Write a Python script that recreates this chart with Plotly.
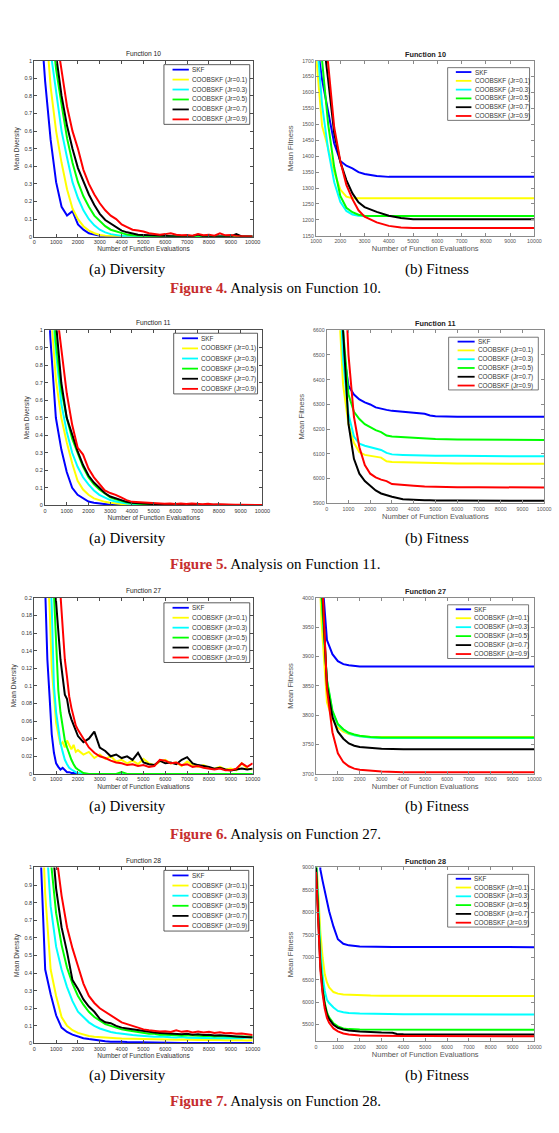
import plotly.graph_objects as go

W, H = 559, 1133

# ---------------- data ----------------
series_names = ["SKF", "COOBSKF (Jr=0.1)", "COOBSKF (Jr=0.3)", "COOBSKF (Jr=0.5)",
                "COOBSKF (Jr=0.7)", "COOBSKF (Jr=0.9)"]

x_div = [0, 250, 500, 750, 1000, 1250, 1500, 1750, 2000, 2250,
         2500, 2750, 3000, 3250, 3500, 3750, 4000, 4250, 4500, 4750,
         5000, 5250, 5500, 5750, 6000, 6250, 6500, 6750, 7000, 7250,
         7500, 7750, 8000, 8250, 8500, 8750, 9000, 9250, 9500, 9750,
         10000]

x_div27 = [0, 100, 200, 300, 400, 500, 600, 700, 800, 900,
           1000, 1100, 1200, 1300, 1400, 1500, 1600, 1700, 1800, 1900, 2000,
           2250, 2500, 2750, 3000, 3250, 3500, 3750, 4000, 4250, 4500,
           4750, 5000, 5250, 5500, 5750, 6000, 6250, 6500, 6750, 7000,
           7250, 7500, 7750, 8000, 8250, 8500, 8750, 9000, 9250, 9500, 9750, 10000]

# Function 10 - diversity
div10_skf = [1.80, 1.30, 0.88, 0.55, 0.31, 0.17, 0.12, 0.145, 0.07, 0.04,
             0.02, 0.012, 0.006, 0.004, 0.002, 0.002, 0.001, 0.001, 0.001, 0.0,
             0.001, 0.0, 0.0, 0.001, 0.0, 0.0, 0.0, 0.0, 0.001, 0.0,
             0.0, 0.0, 0.0, 0.0, 0.0, 0.0, 0.0, 0.0, 0.0, 0.0,
             0.0]
div10_j1 = [2.50, 1.80, 1.25, 0.85, 0.60, 0.42, 0.27, 0.16, 0.10, 0.06,
            0.035, 0.02, 0.01, 0.006, 0.004, 0.002, 0.001, 0.001, 0.0, 0.0,
            0.0, 0.0, 0.0, 0.0, 0.0, 0.0, 0.0, 0.0, 0.0, 0.0,
            0.0, 0.0, 0.0, 0.0, 0.0, 0.0, 0.0, 0.0, 0.0, 0.0,
            0.0]
div10_j3 = [3.0, 2.2, 1.5, 1.05, 0.82, 0.60, 0.45, 0.31, 0.22, 0.15,
            0.10, 0.065, 0.04, 0.025, 0.015, 0.008, 0.005, 0.003, 0.002, 0.001,
            0.001, 0.0, 0.001, 0.0, 0.0, 0.0, 0.0, 0.0, 0.0, 0.0,
            0.0, 0.0, 0.0, 0.0, 0.0, 0.0, 0.0, 0.0, 0.0, 0.0,
            0.0]
div10_j5 = [3.5, 2.6, 1.8, 1.25, 0.95, 0.75, 0.56, 0.42, 0.31, 0.23,
            0.17, 0.12, 0.09, 0.06, 0.04, 0.03, 0.02, 0.012, 0.008, 0.005,
            0.003, 0.002, 0.002, 0.001, 0.008, 0.002, 0.001, 0.0, 0.0, 0.0,
            0.0, 0.0, 0.0, 0.0, 0.0, 0.0, 0.0, 0.0, 0.0, 0.0,
            0.0]
div10_j7 = [3.8, 2.9, 2.0, 1.4, 1.03, 0.80, 0.63, 0.50, 0.39, 0.31,
            0.24, 0.18, 0.13, 0.095, 0.075, 0.05, 0.035, 0.025, 0.018, 0.012,
            0.01, 0.008, 0.005, 0.006, 0.004, 0.003, 0.002, 0.003, 0.002, 0.004,
            0.012, 0.003, 0.002, 0.003, 0.002, 0.001, 0.002, 0.015, 0.002, 0.001,
            0.001]
div10_j9 = [4.2, 3.2, 2.3, 1.6, 1.15, 0.93, 0.74, 0.60, 0.50, 0.38,
            0.30, 0.24, 0.19, 0.15, 0.12, 0.10, 0.07, 0.055, 0.04, 0.035,
            0.03, 0.02, 0.018, 0.012, 0.015, 0.02, 0.012, 0.008, 0.01, 0.006,
            0.015, 0.008, 0.012, 0.006, 0.02, 0.008, 0.01, 0.004, 0.003, 0.002,
            0.002]

# Function 11 - diversity
div11_skf = [1.6, 0.95, 0.50, 0.32, 0.19, 0.10, 0.06, 0.04, 0.022, 0.015,
             0.01, 0.006, 0.004, 0.003, 0.002, 0.001, 0.001, 0.001, 0.0, 0.0,
             0.0, 0.0, 0.0, 0.0, 0.0, 0.0, 0.0, 0.0, 0.0, 0.0,
             0.0, 0.0, 0.0, 0.0, 0.0, 0.0, 0.0, 0.0, 0.0, 0.0,
             0.0]
div11_j1 = [2.0, 1.15, 0.72, 0.50, 0.36, 0.24, 0.14, 0.09, 0.06, 0.04,
            0.03, 0.02, 0.015, 0.01, 0.008, 0.006, 0.005, 0.004, 0.003, 0.002,
            0.002, 0.002, 0.001, 0.001, 0.001, 0.001, 0.0, 0.0, 0.0, 0.0,
            0.0, 0.0, 0.0, 0.0, 0.0, 0.0, 0.0, 0.0, 0.0, 0.0,
            0.0]
div11_j3 = [2.2, 1.3, 0.88, 0.58, 0.42, 0.30, 0.22, 0.16, 0.12, 0.085,
            0.06, 0.045, 0.03, 0.022, 0.015, 0.01, 0.008, 0.005, 0.004, 0.003,
            0.003, 0.002, 0.002, 0.001, 0.001, 0.001, 0.001, 0.0, 0.0, 0.0,
            0.0, 0.0, 0.0, 0.0, 0.0, 0.0, 0.0, 0.0, 0.0, 0.0,
            0.0]
div11_j5 = [2.4, 1.45, 0.93, 0.66, 0.50, 0.38, 0.30, 0.22, 0.16, 0.12,
            0.09, 0.065, 0.045, 0.035, 0.025, 0.018, 0.012, 0.009, 0.007, 0.005,
            0.004, 0.003, 0.003, 0.002, 0.002, 0.002, 0.001, 0.001, 0.001, 0.001,
            0.001, 0.001, 0.0, 0.0, 0.0, 0.0, 0.0, 0.0, 0.0, 0.0,
            0.0]
div11_j7 = [2.6, 1.6, 1.05, 0.70, 0.50, 0.40, 0.31, 0.23, 0.17, 0.13,
            0.10, 0.07, 0.05, 0.04, 0.03, 0.02, 0.015, 0.012, 0.01, 0.009,
            0.008, 0.006, 0.005, 0.005, 0.004, 0.004, 0.003, 0.004, 0.003, 0.003,
            0.002, 0.003, 0.002, 0.004, 0.002, 0.002, 0.001, 0.001, 0.001, 0.001,
            0.001]
div11_j9 = [2.8, 1.75, 1.15, 0.88, 0.64, 0.46, 0.33, 0.29, 0.21, 0.16,
            0.12, 0.085, 0.07, 0.06, 0.045, 0.03, 0.02, 0.018, 0.015, 0.013,
            0.015, 0.01, 0.009, 0.01, 0.008, 0.011, 0.007, 0.01, 0.008, 0.006,
            0.009, 0.005, 0.006, 0.004, 0.005, 0.003, 0.003, 0.002, 0.002, 0.002,
            0.002]

# Function 27 - diversity (finer grid at start)
div27_skf = [0.50, 0.45, 0.40, 0.34, 0.27, 0.21, 0.13, 0.088, 0.045, 0.024,
             0.012, 0.008, 0.005, 0.007, 0.004, 0.002, 0.002, 0.001, 0.001, 0.0005, 0.0,
             0.0, 0.0, 0.0, 0.0, 0.0, 0.0, 0.0, 0.0, 0.0, 0.0,
             0.0, 0.0, 0.0, 0.0, 0.0, 0.0, 0.0, 0.0, 0.0, 0.0,
             0.0, 0.0, 0.0, 0.0, 0.0, 0.0, 0.0, 0.0, 0.0, 0.0, 0.0, 0.0]
div27_j1 = [0.60, 0.55, 0.50, 0.44, 0.37, 0.30, 0.24, 0.19, 0.12, 0.085,
            0.058, 0.045, 0.033, 0.036, 0.030, 0.038, 0.032, 0.028, 0.033, 0.025, 0.027,
            0.022, 0.025, 0.018, 0.022, 0.017, 0.020, 0.014, 0.016, 0.012, 0.015,
            0.011, 0.017, 0.012, 0.010, 0.014, 0.016, 0.012, 0.013, 0.009, 0.014,
            0.010, 0.008, 0.010, 0.007, 0.006, 0.008, 0.005, 0.006, 0.004, 0.012, 0.006, 0.005]
div27_j3 = [0.65, 0.60, 0.55, 0.50, 0.44, 0.38, 0.31, 0.25, 0.19, 0.10,
            0.07, 0.05, 0.035, 0.025, 0.016, 0.011, 0.007, 0.005, 0.003, 0.002, 0.001,
            0.0, 0.0, 0.0, 0.0, 0.0, 0.0, 0.0, 0.0, 0.0, 0.0,
            0.0, 0.0, 0.0, 0.0, 0.0, 0.0, 0.0, 0.0, 0.0, 0.0,
            0.0, 0.0, 0.0, 0.0, 0.0, 0.0, 0.0, 0.0, 0.0, 0.0, 0.0, 0.0]
div27_j5 = [0.75, 0.70, 0.64, 0.58, 0.52, 0.45, 0.38, 0.32, 0.26, 0.20,
            0.14, 0.095, 0.07, 0.052, 0.038, 0.030, 0.022, 0.016, 0.011, 0.007, 0.005,
            0.001, 0.0, 0.0, 0.0, 0.0, 0.0, 0.0, 0.002, 0.0, 0.0,
            0.0, 0.0, 0.0, 0.0, 0.0, 0.0, 0.0, 0.0, 0.0, 0.0,
            0.0, 0.0, 0.0, 0.0, 0.0, 0.0, 0.0, 0.0, 0.0, 0.0, 0.0, 0.0]
div27_j7 = [0.95, 0.90, 0.84, 0.76, 0.67, 0.57, 0.46, 0.37, 0.30, 0.24,
            0.195, 0.16, 0.13, 0.11, 0.09, 0.085, 0.07, 0.062, 0.055, 0.048, 0.043,
            0.036, 0.040, 0.048, 0.030, 0.026, 0.020, 0.022, 0.018, 0.020, 0.016,
            0.024, 0.013, 0.011, 0.010, 0.015, 0.012, 0.013, 0.011, 0.016, 0.019,
            0.012, 0.010, 0.009, 0.008, 0.006, 0.007, 0.005, 0.004, 0.005, 0.006, 0.005, 0.006]
div27_j9 = [1.20, 1.10, 1.00, 0.90, 0.80, 0.68, 0.56, 0.46, 0.38, 0.31,
            0.27, 0.24, 0.20, 0.165, 0.13, 0.11, 0.088, 0.075, 0.065, 0.055, 0.05,
            0.04, 0.03, 0.024, 0.02, 0.018, 0.015, 0.013, 0.012, 0.01, 0.011,
            0.009, 0.01, 0.008, 0.009, 0.016, 0.015, 0.012, 0.013, 0.01, 0.011,
            0.008, 0.009, 0.007, 0.006, 0.005, 0.006, 0.004, 0.004, 0.006, 0.012, 0.008, 0.012]

# Function 28 - diversity
div28_skf = [2.0, 1.25, 0.42, 0.28, 0.16, 0.09, 0.065, 0.05, 0.04, 0.03,
             0.025, 0.02, 0.015, 0.013, 0.01, 0.012, 0.01, 0.008, 0.007, 0.006,
             0.005, 0.004, 0.004, 0.003, 0.003, 0.003, 0.002, 0.002, 0.002, 0.002,
             0.002, 0.002, 0.002, 0.002, 0.002, 0.002, 0.002, 0.002, 0.002, 0.002,
             0.002]
div28_j1 = [2.5, 1.6, 0.85, 0.42, 0.27, 0.15, 0.10, 0.075, 0.06, 0.05,
            0.042, 0.038, 0.035, 0.032, 0.03, 0.03, 0.028, 0.027, 0.026, 0.025,
            0.024, 0.025, 0.023, 0.024, 0.022, 0.023, 0.021, 0.022, 0.02, 0.021,
            0.02, 0.019, 0.02, 0.018, 0.019, 0.018, 0.019, 0.017, 0.018, 0.017,
            0.018]
div28_j3 = [3.0, 2.0, 1.25, 0.78, 0.55, 0.42, 0.32, 0.24, 0.18, 0.15,
            0.12, 0.10, 0.085, 0.075, 0.065, 0.06, 0.055, 0.05, 0.048, 0.045,
            0.042, 0.04, 0.038, 0.04, 0.036, 0.035, 0.034, 0.036, 0.033, 0.032,
            0.034, 0.031, 0.03, 0.032, 0.03, 0.031, 0.03, 0.032, 0.03, 0.034,
            0.035]
div28_j5 = [3.4, 2.4, 1.6, 1.05, 0.74, 0.56, 0.43, 0.34, 0.27, 0.22,
            0.18, 0.15, 0.13, 0.11, 0.10, 0.09, 0.08, 0.075, 0.07, 0.065,
            0.06, 0.055, 0.055, 0.05, 0.05, 0.048, 0.05, 0.045, 0.047, 0.044,
            0.045, 0.042, 0.044, 0.04, 0.042, 0.04, 0.041, 0.038, 0.04, 0.037,
            0.038]
div28_j7 = [4.0, 2.9, 1.9, 1.25, 0.88, 0.66, 0.52, 0.36, 0.31, 0.25,
            0.21, 0.18, 0.14, 0.12, 0.115, 0.10, 0.09, 0.085, 0.08, 0.075,
            0.07, 0.065, 0.062, 0.06, 0.058, 0.055, 0.057, 0.052, 0.055, 0.05,
            0.052, 0.048, 0.05, 0.045, 0.047, 0.043, 0.042, 0.04, 0.038, 0.036,
            0.034]
div28_j9 = [4.5, 3.3, 2.3, 1.55, 1.08, 0.84, 0.66, 0.54, 0.44, 0.34,
            0.27, 0.23, 0.20, 0.18, 0.155, 0.14, 0.12, 0.11, 0.10, 0.09,
            0.08, 0.075, 0.072, 0.068, 0.07, 0.065, 0.075, 0.066, 0.07, 0.063,
            0.068, 0.062, 0.066, 0.06, 0.063, 0.058, 0.06, 0.055, 0.056, 0.05,
            0.048]

# Function 10 - fitness
x_fit10 = [1000, 1250, 1500, 1750, 2000, 2250, 2500, 2750, 3000, 3500,
           4000, 4500, 5000, 6000, 7000, 8000, 9000, 10000]
fit10_skf = [1780, 1640, 1540, 1440, 1385, 1370, 1362, 1350, 1344, 1338,
             1335, 1335, 1335, 1335, 1335, 1335, 1335, 1335]
fit10_j1 = [1720, 1495, 1425, 1350, 1295, 1273, 1268, 1268, 1268, 1268,
            1268, 1268, 1268, 1268, 1268, 1268, 1268, 1268]
fit10_j3 = [1800, 1560, 1420, 1318, 1257, 1228, 1217, 1213, 1212, 1212,
            1212, 1212, 1212, 1212, 1212, 1212, 1212, 1212]
fit10_j5 = [1900, 1710, 1500, 1365, 1275, 1238, 1224, 1216, 1213, 1212,
            1212, 1212, 1212, 1212, 1212, 1212, 1212, 1212]
fit10_j7 = [2000, 1800, 1640, 1472, 1382, 1325, 1283, 1255, 1240, 1225,
            1213, 1206, 1202, 1202, 1202, 1202, 1202, 1202]
fit10_j9 = [2050, 1850, 1690, 1490, 1385, 1310, 1265, 1230, 1210, 1192,
            1181, 1176, 1174, 1174, 1174, 1174, 1174, 1174]

# Function 11 - fitness
x_fit11 = [0, 250, 500, 750, 1000, 1250, 1500, 1750, 2000, 2250, 2500, 2750,
           3000, 3500, 4000, 4500, 4750, 5000, 6000, 7000, 8000, 9000, 10000]
fit11_skf = [9000, 8000, 7000, 6530, 6375, 6340, 6320, 6308, 6300, 6288, 6282, 6278,
             6274, 6270, 6268, 6262, 6255, 6252, 6250, 6250, 6250, 6250, 6250]
fit11_j1 = [9000, 8000, 6800, 6380, 6220, 6145, 6107, 6096, 6093, 6090, 6085, 6070,
            6067, 6066, 6065, 6063, 6062, 6062, 6061, 6061, 6060, 6060, 6060]
fit11_j3 = [9000, 8000, 7000, 6480, 6260, 6170, 6141, 6133, 6127, 6120, 6116, 6104,
            6098, 6096, 6094, 6093, 6093, 6092, 6092, 6091, 6091, 6090, 6090]
fit11_j5 = [9500, 8500, 7200, 6600, 6340, 6270, 6241, 6220, 6208, 6196, 6188, 6174,
            6170, 6167, 6165, 6162, 6161, 6160, 6158, 6157, 6157, 6156, 6156]
fit11_j7 = [9500, 8500, 7200, 6600, 6220, 6080, 6020, 5990, 5972, 5952, 5940, 5932,
            5927, 5917, 5913, 5912, 5912, 5911, 5911, 5911, 5911, 5910, 5910]
fit11_j9 = [10000, 9000, 8000, 7000, 6500, 6250, 6127, 6055, 6020, 6005, 5996, 5990,
            5978, 5973, 5971, 5968, 5967, 5966, 5965, 5965, 5964, 5964, 5964]

# Function 27 - fitness
x_fit27 = [0, 250, 500, 750, 1000, 1250, 1500, 1750, 2000, 2500,
           3000, 4000, 5000, 6000, 7000, 8000, 9000, 10000]
fit27_skf = [4300, 4050, 3928, 3904, 3892, 3887, 3885, 3884, 3883, 3883,
             3883, 3883, 3883, 3883, 3883, 3883, 3883, 3883]
fit27_j1 = [4200, 3960, 3822, 3793, 3779, 3772, 3768, 3766, 3764, 3763,
            3763, 3763, 3763, 3763, 3763, 3763, 3763, 3763]
fit27_j3 = [4150, 4008, 3858, 3806, 3784, 3775, 3769, 3766, 3764, 3762,
            3761, 3761, 3761, 3761, 3761, 3761, 3761, 3761]
fit27_j5 = [4150, 4010, 3860, 3808, 3785, 3776, 3770, 3767, 3765, 3763,
            3762, 3762, 3762, 3762, 3762, 3762, 3762, 3762]
fit27_j7 = [4300, 4040, 3850, 3797, 3772, 3760, 3752, 3748, 3746, 3744,
            3743, 3742, 3742, 3742, 3742, 3742, 3742, 3742]
fit27_j9 = [4400, 4060, 3845, 3771, 3735, 3720, 3713, 3709, 3707, 3705,
            3704, 3703, 3703, 3703, 3703, 3703, 3703, 3703]

# Function 28 - fitness
x_fit28 = [0, 100, 200, 300, 400, 500, 600, 800, 1000, 1250, 1500, 2000,
           2500, 3000, 3500, 3700, 4000, 5000, 6000, 7000, 8000, 9000, 10000]
fit28_skf = [10500, 9600, 8950, 8700, 8470, 8230, 8022, 7680, 7400, 7300, 7265, 7240,
             7232, 7230, 7230, 7230, 7230, 7229, 7228, 7227, 7226, 7225, 7225]
fit28_j1 = [9300, 8400, 7550, 7000, 6620, 6440, 6330, 6225, 6190, 6172, 6165, 6155,
            6148, 6145, 6143, 6142, 6141, 6140, 6140, 6140, 6139, 6138, 6138]
fit28_j3 = [9200, 8100, 7200, 6600, 6250, 6050, 5980, 5880, 5805, 5775, 5758, 5745,
            5738, 5734, 5732, 5731, 5730, 5729, 5728, 5728, 5727, 5727, 5727]
fit28_j5 = [9100, 7900, 6900, 6330, 5980, 5770, 5660, 5530, 5460, 5415, 5400, 5392,
            5390, 5390, 5390, 5390, 5389, 5389, 5389, 5388, 5388, 5388, 5388]
fit28_j7 = [9000, 7800, 6800, 6260, 5930, 5730, 5620, 5495, 5430, 5392, 5368, 5345,
            5330, 5324, 5320, 5292, 5287, 5284, 5282, 5281, 5280, 5280, 5278]
fit28_j9 = [8900, 7700, 6700, 6190, 5850, 5650, 5540, 5415, 5350, 5302, 5280, 5258,
            5252, 5249, 5247, 5247, 5246, 5245, 5245, 5245, 5244, 5244, 5243]

panel_titles = ["Function 10", "Function 10", "Function 11", "Function 11",
                "Function 27", "Function 27", "Function 28", "Function 28"]
sub_captions = ["(a) Diversity", "(b) Fitness"]
fig_numbers = ["Figure 4.", "Figure 5.", "Figure 6.", "Figure 7."]
fig_texts = [" Analysis on Function 10.", " Analysis on Function 11.",
             " Analysis on Function 27.", " Analysis on Function 28."]

panels = [
    (x_div, [div10_skf, div10_j1, div10_j3, div10_j5, div10_j7, div10_j9]),
    (x_fit10, [fit10_skf, fit10_j1, fit10_j3, fit10_j5, fit10_j7, fit10_j9]),
    (x_div, [div11_skf, div11_j1, div11_j3, div11_j5, div11_j7, div11_j9]),
    (x_fit11, [fit11_skf, fit11_j1, fit11_j3, fit11_j5, fit11_j7, fit11_j9]),
    (x_div27, [div27_skf, div27_j1, div27_j3, div27_j5, div27_j7, div27_j9]),
    (x_fit27, [fit27_skf, fit27_j1, fit27_j3, fit27_j5, fit27_j7, fit27_j9]),
    (x_div, [div28_skf, div28_j1, div28_j3, div28_j5, div28_j7, div28_j9]),
    (x_fit28, [fit28_skf, fit28_j1, fit28_j3, fit28_j5, fit28_j7, fit28_j9]),
]

# ---------------- style / layout ----------------
colors = ["#0000FF", "#FFFF00", "#00FFFF", "#00FF00", "#000000", "#FF0000"]

# plot-area boxes in pixels (left, top, right, bottom)
boxes = [(29, 58, 253, 235), (318, 58, 542, 234),
         (40, 329, 263, 505), (329, 329, 552, 503),
         (29, 598, 253, 775), (318, 598, 542, 775),
         (29, 869, 253, 1046), (318, 869, 542, 1044)]
legend_boxes = [(162, 62, 250, 122), (453, 65, 537, 118),
                (172, 332, 258, 393), (454, 336, 546, 389),
                (162, 603, 250, 663), (453, 605, 536, 659),
                (162, 872, 249, 933), (453, 876, 536, 929)]
x_ranges = [[0, 10000], [1000, 10000], [0, 10000], [0, 10000],
            [0, 10000], [0, 10000], [0, 10000], [0, 10000]]
y_ranges = [[0, 1], [1150, 1700], [0, 1], [5900, 6600],
            [0, 0.2], [3700, 4000], [0, 1], [5125, 9000]]
y_dticks = [0.1, 50, 0.1, 100, 0.02, 50, 0.1, 500]
title_y = [51, 52, 321, 322, 591, 592, 862, 863]
row_caption_y = [268, 538, 808, 1078]
row_figure_y = [287, 564, 835, 1104]

SANS = "Liberation Sans, Arial, sans-serif"
SERIF = "Liberation Serif, Times New Roman, serif"


def px(x):
    return x / W


def py(y):
    return 1 - y / H


fig = go.Figure()
shapes = []
annotations = []
layout = {}

for i, ((xs, ys_list), box) in enumerate(zip(panels, boxes)):
    n = i + 1
    xa = "x" if n == 1 else f"x{n}"
    ya = "y" if n == 1 else f"y{n}"
    is_div = (i % 2 == 0)
    lw = 2.0 if is_div else 2.0
    for name, ys, c in zip(series_names, ys_list, colors):
        fig.add_trace(go.Scatter(x=xs, y=ys, name=name, mode="lines",
                                 line=dict(color=c, width=lw),
                                 xaxis=xa, yaxis=ya, showlegend=False,
                                 hoverinfo="skip"))
    L, T, R, B = box
    frame = "#4d4d4d" if is_div else "#8a8a8a"
    tcol = "#333333" if is_div else "#555555"
    common = dict(showline=True, linecolor=frame, linewidth=1, mirror="ticks",
                  ticks="inside", ticklen=3, tickwidth=0.8, tickcolor=frame,
                  showgrid=False, zeroline=False,
                  tickfont=dict(family=SANS, size=5.5 if is_div else 5.3, color=tcol))
    layout[f"xaxis{'' if n == 1 else n}"] = dict(
        common, domain=[px(L), px(R)], anchor=ya, range=x_ranges[i],
        dtick=1000, tick0=0, tickformat="d",
        title=dict(text="Number of Function Evaluations",
                   font=dict(family=SANS, size=6.5 if is_div else 7.5, color=tcol),
                   standoff=2))
    layout[f"yaxis{'' if n == 1 else n}"] = dict(
        common, domain=[py(B), py(T)], anchor=xa, range=y_ranges[i],
        dtick=y_dticks[i], tick0=0, tickformat="~g",
        title=dict(text="Mean Diversity" if is_div else "Mean Fitness",
                   font=dict(family=SANS, size=6.5 if is_div else 7.6, color=tcol),
                   standoff=4 if is_div else 7))
    # panel title
    annotations.append(dict(
        x=px((L + R) / 2), y=py(title_y[i]), xref="paper", yref="paper",
        text=panel_titles[i] if is_div else f"<b>{panel_titles[i]}</b>",
        showarrow=False, xanchor="center", yanchor="middle",
        font=dict(family=SANS, size=6.7 if is_div else 7.3, color="#222222")))
    # custom legend box
    x0, y0, x1, y1 = legend_boxes[i]
    shapes.append(dict(type="rect", xref="paper", yref="paper",
                       x0=px(x0), x1=px(x1), y0=py(y1), y1=py(y0),
                       fillcolor="white",
                       line=dict(color="#333333" if is_div else "#555555", width=0.8),
                       layer="above"))
    wdt = x1 - x0
    hgt = y1 - y0
    for k, (name, c) in enumerate(zip(series_names, colors)):
        yc = y0 + hgt * (k + 0.5) / 6
        shapes.append(dict(type="line", xref="paper", yref="paper",
                           x0=px(x0 + 0.10 * wdt), x1=px(x0 + 0.29 * wdt),
                           y0=py(yc), y1=py(yc),
                           line=dict(color=c, width=1.8), layer="above"))
        annotations.append(dict(
            x=px(x0 + 0.305 * wdt), y=py(yc), xref="paper", yref="paper",
            text=name, showarrow=False, xanchor="left", yanchor="middle",
            font=dict(family=SANS, size=6.4, color="#333333")))

# sub-captions and figure captions
for r in range(4):
    annotations.append(dict(x=px(125), y=py(row_caption_y[r]), xref="paper", yref="paper",
                            text=sub_captions[0], showarrow=False,
                            xanchor="center", yanchor="middle",
                            font=dict(family=SERIF, size=15, color="black")))
    annotations.append(dict(x=px(442), y=py(row_caption_y[r]), xref="paper", yref="paper",
                            text=sub_captions[1], showarrow=False,
                            xanchor="center", yanchor="middle",
                            font=dict(family=SERIF, size=15, color="black")))
    annotations.append(dict(
        x=px(276), y=py(row_figure_y[r]), xref="paper", yref="paper",
        text=f"<b><span style='color:#C62D2D'>{fig_numbers[r]}</span></b>{fig_texts[r]}",
        showarrow=False, xanchor="center", yanchor="middle",
        font=dict(family=SERIF, size=15, color="black")))

fig.update_layout(
    width=W, height=H, margin=dict(l=0, r=0, t=0, b=0),
    paper_bgcolor="white", plot_bgcolor="white",
    showlegend=False, shapes=shapes, annotations=annotations, **layout)

fig.write_html("out.html")
